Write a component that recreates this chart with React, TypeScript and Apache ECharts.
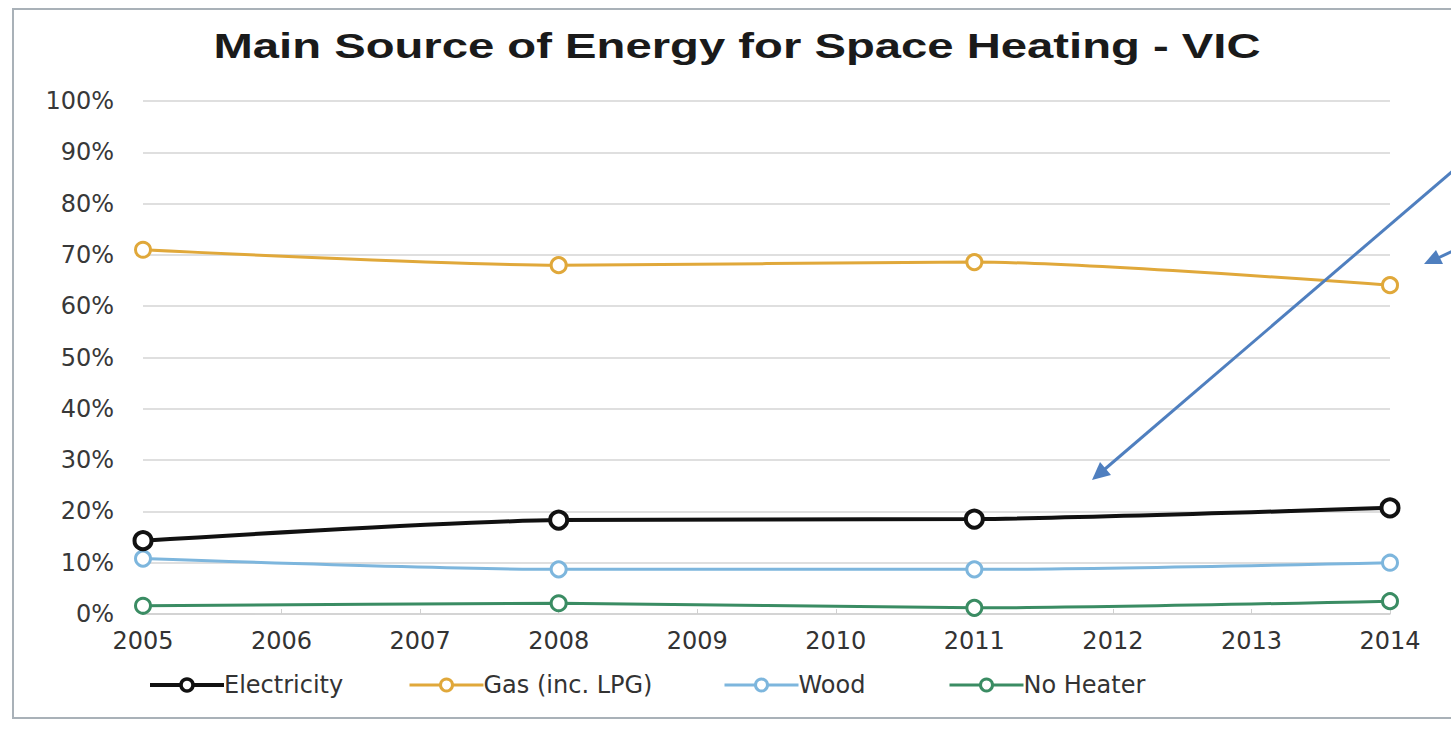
import React, { useEffect, useRef } from "react";
import * as echarts from "echarts";

const years = [2005, 2008, 2011, 2014];
const electricity = [14.3, 18.3, 18.5, 20.7];
const gas = [71.0, 68.0, 68.6, 64.1];
const wood = [10.8, 8.7, 8.7, 10.0];
const noHeater = [1.6, 2.1, 1.2, 2.5];
const yTicks = [0, 10, 20, 30, 40, 50, 60, 70, 80, 90, 100];

const titleText = "Main Source of Energy for Space Heating - VIC";
const seriesNames = ["Electricity", "Gas (inc. LPG)", "Wood", "No Heater"];
const seriesColors = ["#111111", "#E0A83A", "#7DB6DD", "#3A8C63"];
const seriesValues = [electricity, gas, wood, noHeater];
const legendLefts = [143, 403, 718, 943];

const labelFont = "DejaVu Sans, Verdana, sans-serif";

export default function App() {
  const ref = useRef<HTMLDivElement>(null);
  useEffect(() => {
    if (!ref.current) return;
    const chart = echarts.init(ref.current, null, { renderer: "svg" });
    const arrowColor = "#4F7FBF";
    chart.setOption({
      animation: false,
      backgroundColor: "#ffffff",
      legend: seriesNames.map((name, i) => ({
        left: legendLefts[i],
        top: 668,
        itemWidth: 74,
        itemHeight: 15,
        data: [name],
        selectedMode: false,
        lineStyle: { width: i === 0 ? 4 : 3 },
        itemStyle: { borderWidth: i === 0 ? 3.5 : 3 },
        textStyle: {
          fontFamily: labelFont,
          fontSize: 24,
          color: "#333333",
          padding: [0, 0, 0, -5],
        },
      })),
      grid: { left: 143, right: 61, top: 101, bottom: 115, containLabel: false },
      xAxis: {
        type: "value",
        min: 2005,
        max: 2014,
        interval: 1,
        axisLine: { show: true, lineStyle: { color: "#D0D0D0", width: 1.5 } },
        axisTick: { show: true, inside: true, length: 5, lineStyle: { color: "#D0D0D0" } },
        splitLine: { show: false },
        axisLabel: {
          formatter: (v: number) => String(v),
          fontFamily: labelFont,
          fontSize: 24,
          color: "#333333",
          margin: 15,
        },
      },
      yAxis: {
        type: "value",
        min: yTicks[0],
        max: yTicks[yTicks.length - 1],
        interval: 10,
        axisLine: { show: false },
        axisTick: { show: false },
        splitLine: { lineStyle: { color: "#D4D4D4", width: 1.5 } },
        axisLabel: {
          formatter: "{value}%",
          fontFamily: labelFont,
          fontSize: 24,
          color: "#383838",
          margin: 29,
        },
      },
      series: seriesNames.map((name, i) => ({
        name,
        type: "line",
        smooth: 0.25,
        data: years.map((y, j) => [y, seriesValues[i][j]]),
        symbol: "circle",
        symbolSize: i === 0 ? 17 : 15,
        lineStyle: { color: seriesColors[i], width: i === 0 ? 4 : 3 },
        itemStyle: {
          color: "#ffffff",
          borderColor: seriesColors[i],
          borderWidth: i === 0 ? 4 : 3,
        },
        z: 10 - i,
      })),
      graphic: [
        {
          type: "rect",
          shape: { x: 13, y: 9, width: 1460, height: 709 },
          style: { fill: "none", stroke: "#A9B1B8", lineWidth: 2 },
          silent: true,
        },
        {
          type: "text",
          x: 737,
          y: 46,
          scaleX: 1.35,
          style: {
            text: titleText,
            x: 0,
            y: 0,
            align: "center",
            verticalAlign: "middle",
            fontFamily: "Liberation Sans, Arial, sans-serif",
            fontSize: 35,
            fontWeight: "bold",
            fill: "#1a1a1a",
          },
        },
        {
          type: "line",
          shape: { x1: 1455, y1: 169, x2: 1105, y2: 469 },
          style: { stroke: arrowColor, lineWidth: 3 },
          z: 100,
        },
        {
          type: "polygon",
          shape: { points: [[1092, 480], [1111, 475], [1100, 462]] },
          style: { fill: arrowColor },
          z: 100,
        },
        {
          type: "line",
          shape: { x1: 1453, y1: 251, x2: 1438, y2: 258 },
          style: { stroke: arrowColor, lineWidth: 3 },
          z: 100,
        },
        {
          type: "polygon",
          shape: { points: [[1424, 264], [1443, 264], [1436, 250]] },
          style: { fill: arrowColor },
          z: 100,
        },
      ],
    });
    return () => chart.dispose();
  }, []);
  return (
    <div
      ref={ref}
      style={{ position: "absolute", left: 0, top: 0, width: 1451, height: 729 }}
    />
  );
}
